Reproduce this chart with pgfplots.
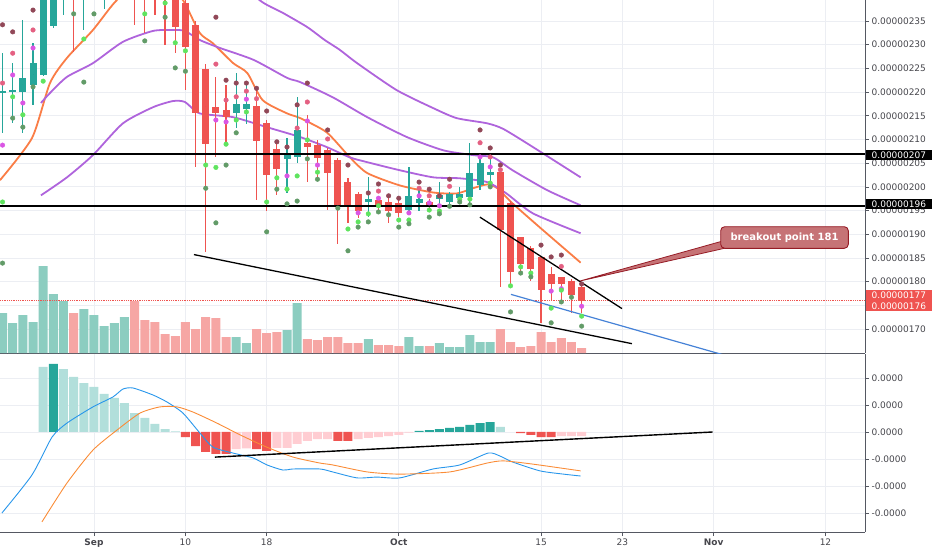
\documentclass[border=0pt]{standalone}
\usepackage{pgfplots}
\pgfplotsset{compat=1.18}
\usepackage{pgfplotstable}
\usepackage{fontspec}
\setmainfont{DejaVu Sans}
\definecolor{cUp}{RGB}{38,166,154}
\definecolor{cDn}{RGB}{239,83,80}
\definecolor{volUp}{RGB}{140,205,192}
\definecolor{volDn}{RGB}{246,166,164}
\definecolor{hDark}{RGB}{38,166,154}
\definecolor{hLight}{RGB}{178,223,219}
\definecolor{hRed}{RGB}{239,83,80}
\definecolor{hPink}{RGB}{255,205,210}
\definecolor{maC}{RGB}{250,125,70}
\definecolor{puC}{RGB}{175,100,220}
\definecolor{mBlue}{RGB}{40,150,235}
\definecolor{mOr}{RGB}{250,140,55}
\definecolor{dMar}{RGB}{145,72,88}
\definecolor{dPink}{RGB}{228,96,130}
\definecolor{dMag}{RGB}{218,85,228}
\definecolor{dLg}{RGB}{95,228,95}
\definecolor{dDg}{RGB}{98,155,104}
\definecolor{gridc}{RGB}{236,238,243}
\definecolor{axc}{RGB}{85,88,98}
\definecolor{txc}{RGB}{70,70,76}
\definecolor{callf}{RGB}{198,115,118}
\definecolor{callb}{RGB}{150,28,38}
\definecolor{tline}{RGB}{70,130,215}

\pgfplotstableread{
d o h l c
-9 219.9 228.2 211.3 220.2
-8 220.1 226.1 213.4 220.4
-7 220.0 235.2 211.3 223.0
-6 221.5 230.3 217.2 226.1
-5 223.6 245.0 223.4 243.0
-4 233.9 248.0 233.5 246.0
-3 244.0 250.0 236.3 248.0
-1 246.0 252.0 233.0 250.0
0 248.0 254.0 241.0 252.0
1 250.0 258.0 237.5 256.0
2 254.0 260.0 243.0 258.0
3 255.0 262.0 242.0 259.0
14 215.5 224.0 212.4 217.5
15 216.4 221.5 213.2 217.5
19 205.8 210.3 198.6 206.9
20 206.2 219.0 205.0 212.0
27 196.7 202.0 193.6 197.5
31 195.1 204.2 194.8 198.1
32 196.6 199.3 195.0 197.4
34 197.4 201.0 195.7 198.2
35 196.8 199.0 196.2 198.5
36 197.7 199.9 196.5 198.5
37 197.8 209.2 196.5 202.9
38 200.4 207.1 199.3 205.0
39 202.6 207.1 200.0 203.2
}\upc

\pgfplotstableread{
d o h l c
-2 252.0 254.0 228.4 246.0
4 259.0 262.0 234.2 255.0
5 257.0 259.0 232.5 252.0
6 254.0 256.0 236.3 250.0
7 252.0 254.0 230.0 246.0
8 248.0 250.0 228.2 233.7
9 238.8 241.0 220.4 229.5
10 234.2 235.0 204.1 215.5
11 224.9 226.0 186.2 209.0
12 216.8 223.2 206.2 215.5
13 216.2 221.5 209.2 214.7
16 217.0 220.8 197.2 209.6
17 213.4 214.0 195.0 202.4
18 207.9 209.8 198.2 203.7
21 209.3 215.2 201.0 208.4
22 208.8 209.8 201.4 206.1
23 207.8 208.2 195.1 202.9
24 205.6 206.0 188.0 195.7
25 201.0 201.8 192.3 195.7
26 198.5 199.0 193.5 194.9
28 197.2 198.0 195.0 196.2
29 196.8 198.0 192.4 194.9
30 196.6 197.2 193.6 194.4
33 196.8 197.5 194.8 196.0
40 203.1 203.5 178.8 190.9
41 196.6 197.0 178.8 182.1
42 189.4 189.5 181.7 183.8
43 187.0 187.5 180.2 182.6
44 185.1 185.5 171.2 178.3
45 181.7 183.0 176.0 179.4
46 180.9 181.0 176.0 179.4
47 180.2 180.5 173.3 177.1
48 178.8 179.5 173.3 176.0
}\dnc

\pgfplotsset{base/.style={scale only axis, width=865pt, xmin=-9.25, xmax=75.89, anchor=south west, clip=true},
  candle/.style 2 args={only marks, mark=*, mark size=0pt, mark options={draw=none, fill=none},
    error bars/.cd, y dir=both, y explicit, error mark=none,
    error bar style={draw=#1, line width=#2}},
  pdot/.style={only marks, color=#1, mark=*, mark size=2.3pt, mark options={solid, draw=none, fill=#1}}}

\begin{document}
\begin{tikzpicture}[x=1pt,y=1pt]
\path[use as bounding box] (0,0) rectangle (932,550);

% ---------- price panel: grid, axis, labels
\begin{axis}[base, at={(0pt,197pt)}, height=353pt, ymin=164.93, ymax=239.43,
  axis x line*=bottom, axis y line*=right,
  axis line style={draw=axc, line width=0.8pt},
  xtick={0,9,17,30,44,52,61,72}, xticklabels={}, x tick style={draw=none},
  ytick={170,175,...,235},
  yticklabels={0.00000170,0.00000175,0.00000180,0.00000185,0.00000190,0.00000195,0.00000200,0.00000205,0.00000210,0.00000215,0.00000220,0.00000225,0.00000230,0.00000235},
  y tick style={draw=axc, line width=0.6pt}, tick align=outside, major tick length=4pt,
  yticklabel style={font=\fontsize{9}{10}\selectfont, text=txc, anchor=west, xshift=-1pt},
  grid=major, grid style={draw=gridc, line width=0.7pt}]
\addplot[draw=none] coordinates {(0,200)};
\end{axis}

% ---------- volume
\begin{axis}[base, at={(0pt,197pt)}, height=353pt, ymin=0, ymax=353, hide axis]
\addplot[ybar, bar width=9pt, bar shift=0pt, fill=volUp, draw=none] coordinates {
(-9,40) (-8,30) (-7,38) (-6,31) (-5,87) (-4,59) (-3,52) (-1,44) (0,38) (1,27) (2,30) (3,36)
(14,16) (15,10) (19,23) (20,50) (27,14) (31,16) (32,7) (34,10) (35,6) (36,6) (37,18) (38,11) (39,11)};
\addplot[ybar, bar width=9pt, bar shift=0pt, fill=volDn, draw=none] coordinates {
(-2,40) (4,52) (5,33) (6,31) (7,19) (8,17) (9,31) (10,24) (11,36) (12,35) (13,16) (16,24) (17,20) (18,21)
(21,14) (22,13) (23,16) (24,16) (25,10) (26,10) (28,8) (29,8) (30,7) (33,7)
(40,24) (41,11) (42,6) (43,7) (44,21) (45,11) (46,15) (47,11) (48,5)};
\end{axis}

% ---------- price data
\begin{axis}[base, at={(0pt,197pt)}, height=353pt, ymin=164.93, ymax=239.43, hide axis]
% moving averages
\addplot[maC, line width=1.8pt, smooth, tension=0.4] coordinates {
(-9.25,201.4) (-6.1,210.3) (-4.33,221.9) (-2.66,227.2) (-0.1,233.1) (2.07,239.0) (4.5,243.5) (7.0,242.6) (8.76,239.4) (10.4,232.5) (11.7,230.3) (13.7,226.1) (15.1,224.0) (16.6,218.3) (19.0,215.5) (20.3,214.5) (22.9,211.5) (25.2,206.2) (26.9,202.9) (30.1,200.3) (33.4,198.8) (35.7,198.6) (37.3,199.7) (38.7,200.5) (39.7,199.7) (41.2,196.5) (43.9,191.4) (47.9,184.0)};
\addplot[puC, line width=1.8pt, smooth, tension=0.4] coordinates {
(-5.22,238.8) (-4.5,241) (0.6,248) (8.5,250) (13.4,246) (16.3,239.4) (18.6,236.7) (21.0,233.7) (22.7,231.0) (24.2,228.9) (25.9,226.1) (29.8,220.4) (33.4,216.6) (35.7,214.5) (38.7,213.4) (40.3,212.2) (43.2,208.4) (47.9,202.0)};
\addplot[puC, line width=1.8pt, smooth, tension=0.4] coordinates {
(-5.22,217.7) (-4.33,219.8) (-2.66,223.2) (-0.1,226.1) (2.85,230.6) (5.81,232.9) (7.78,233.1) (8.96,232.9) (10.4,231.0) (12.4,229.3) (15.7,226.8) (19.0,223.0) (20.3,222.1) (23.5,218.9) (26.9,214.7) (30.8,210.5) (34.4,207.7) (37.3,206.7) (39.3,206.2) (41.2,203.5) (44.6,199.3) (47.9,196.1)};
\addplot[puC, line width=1.8pt, smooth, tension=0.4] coordinates {
(-5.22,198.2) (-2.66,202.0) (-0.1,206.7) (2.85,213.4) (5.81,216.8) (7.78,218.1) (8.96,217.9) (10.4,215.5) (13.7,214.7) (17.0,212.6) (20.3,210.5) (22.9,208.4) (25.2,206.2) (26.9,205.2) (30.1,203.5) (33.4,202.0) (36.0,201.8) (38.7,201.0) (40.6,198.6) (43.2,194.4) (47.9,190.2)};
% candles: wicks
\addplot[candle={cUp}{1.2pt}]
  table[x=d, y expr={(\thisrow{h}+\thisrow{l})/2}, y error expr={(\thisrow{h}-\thisrow{l})/2}] {\upc};
\addplot[candle={cDn}{1.2pt}]
  table[x=d, y expr={(\thisrow{h}+\thisrow{l})/2}, y error expr={(\thisrow{h}-\thisrow{l})/2}] {\dnc};
% candles: bodies
\addplot[candle={cUp}{7pt}]
  table[x=d, y expr={(\thisrow{o}+\thisrow{c})/2}, y error expr={max(abs(\thisrow{c}-\thisrow{o})/2,0.15)}] {\upc};
\addplot[candle={cDn}{7pt}]
  table[x=d, y expr={(\thisrow{o}+\thisrow{c})/2}, y error expr={max(abs(\thisrow{c}-\thisrow{o})/2,0.15)}] {\dnc};
% pivot dots
\addplot[pdot=dMar] coordinates {
(-9,234.2) (-8,232.7) (-6,237.3) (12,235.8) (13,222.5) (14,221.9) (15,221.9) (16,220.8) (17,216.0) (18,209.5) (19,208.4) (20,217.3) (21,221.9) (23,212.0) (25,204.6) (27,198.7) (28,200.6) (29,198.1) (30,197.6) (32,201.0) (33,199.5) (34,198.1) (35,201.6) (38,212.0) (39,208.2) (40,204.6) (44,187.7) (45,185.2) (46,185.6) (48,179.5)};
\addplot[pdot=dPink] coordinates {
(-9,221.9) (-8,228.2) (-6,233.1) (12,225.9) (13,218.3) (14,219.0) (15,220.2) (16,218.6) (20,212.4) (21,217.9) (23,210.1) (28,199.1) (32,199.7) (33,198.1) (35,200.1) (38,209.3) (39,206.3) (40,203.6) (46,183.2)};
\addplot[pdot=dMag] coordinates {
(-9,208.8) (-8,223.6) (-7,217.7) (-6,229.3) (12,214.1) (13,213.7) (15,218.5) (19,202.3) (21,213.9) (22,204.6) (26,194.5) (28,197.6) (31,194.5) (32,198.1) (33,196.6) (34,196.0) (38,206.3) (39,204.2) (45,178.0) (46,178.5) (48,174.8)};
\addplot[pdot=dLg] coordinates {
(-9,196.8) (-8,219.0) (-7,215.2) (-5,222.3) (-1,231.2) (5,236.5) (7,238.8) (8,230.4) (9,228.7) (11,204.6) (12,204.1) (13,209.0) (14,214.1) (15,215.8) (17,196.8) (18,201.9) (19,199.5) (20,202.3) (21,209.9) (22,203.1) (25,191.1) (26,192.6) (27,194.3) (28,196.0) (30,193.0) (31,193.0) (33,195.1) (34,194.9) (36,197.4) (37,197.4) (39,200.8) (41,179.1) (42,183.1) (43,181.8) (45,174.4) (46,178.2) (48,172.7)};
\addplot[pdot=dDg] coordinates {
(-9,183.9) (-8,214.5) (-7,212.6) (-6,221.1) (-2,236.5) (-1,222.1) (0,236.5) (5,230.8) (7,235.8) (8,225.1) (9,224.4) (11,199.7) (12,192.4) (13,204.6) (14,211.4) (17,190.5) (18,199.5) (19,196.4) (20,197.0) (21,205.9) (22,201.6) (24,195.5) (25,186.5) (26,191.5) (27,192.6) (28,194.7) (29,194.1) (30,191.5) (31,192.2) (33,193.6) (34,194.3) (35,195.9) (36,196.8) (37,196.2) (39,200.0) (41,173.6) (42,181.8) (43,181.0) (45,171.3) (46,175.7) (47,176.7) (48,170.6)};
% horizontal levels and trend lines
\addplot[black, line width=1.7pt] coordinates {(-9.25,207) (75.89,207)};
\addplot[black, line width=1.7pt] coordinates {(-9.25,196) (75.89,196)};
\addplot[cDn, densely dotted, line width=0.8pt] coordinates {(-9.25,176.1) (75.89,176.1)};
\addplot[black, line width=1.3pt] coordinates {(9.84,185.7) (52.95,166.9)};
\addplot[black, line width=1.3pt] coordinates {(37.99,193.6) (51.97,174.3)};
\addplot[tline, line width=1.2pt] coordinates {(41.04,177.3) (62.5,164.2)};
\end{axis}

% ---------- MACD panel
\begin{axis}[base, at={(0pt,18pt)}, height=178pt, ymin=-3.704, ymax=2.889,
  axis x line*=bottom, axis y line*=right,
  axis line style={draw=axc, line width=0.8pt},
  xtick={0,9,17,30,44,52,61,72},
  xticklabels={\textbf{Sep},10,18,\textbf{Oct},15,23,\textbf{Nov},12},
  ytick={-3,-2,-1,0,1,2},
  yticklabels={-0.0000,-0.0000,-0.0000,0.0000,0.0000,0.0000},
  tick style={draw=axc, line width=0.6pt}, tick align=outside, major tick length=4pt,
  yticklabel style={font=\fontsize{9}{10}\selectfont, text=txc, anchor=west, xshift=-1pt},
  xticklabel style={font=\fontsize{9}{10}\selectfont, text=txc, yshift=1pt},
  grid=major, grid style={draw=gridc, line width=0.7pt}]
\addplot[ybar, bar width=9pt, bar shift=0pt, fill=hLight, draw=none] coordinates {
(-5,2.41) (-3,2.33) (-2,2.04) (-1,1.81) (0,1.67) (1,1.41) (2,1.26) (3,1.07) (4,0.70) (5,0.52) (6,0.30) (7,0.11) (8,0.02) (40,0.19)};
\addplot[ybar, bar width=9pt, bar shift=0pt, fill=hDark, draw=none] coordinates {
(-4,2.52) (32,0.04) (33,0.07) (34,0.11) (35,0.15) (36,0.19) (37,0.26) (38,0.33) (39,0.37)};
\addplot[ybar, bar width=9pt, bar shift=0pt, fill=hRed, draw=none] coordinates {
(9,-0.19) (10,-0.52) (11,-0.74) (12,-0.81) (13,-0.81) (16,-0.63) (17,-0.70) (24,-0.33) (25,-0.33) (42,-0.04) (43,-0.11) (44,-0.19) (45,-0.19)};
\addplot[ybar, bar width=9pt, bar shift=0pt, fill=hPink, draw=none] coordinates {
(14,-0.63) (15,-0.61) (18,-0.59) (19,-0.59) (20,-0.44) (21,-0.33) (22,-0.26) (23,-0.26) (26,-0.26) (27,-0.22) (28,-0.19) (29,-0.15) (30,-0.11) (31,-0.02) (46,-0.15) (47,-0.15) (48,-0.15)};
\addplot[mBlue, line width=0.9pt, smooth, tension=0.4] coordinates {
(-9.06,-3.0) (-6.1,-1.59) (-4.13,-0.19) (-2.66,0.33) (-0.1,0.93) (1.87,1.30) (2.85,1.59) (3.84,1.63) (5.81,1.37) (7.19,1.11) (8.76,0.70) (10.43,-0.04) (11.71,-0.56) (13.68,-0.78) (15.65,-0.96) (17.03,-1.22) (18.6,-1.41) (19.6,-1.37) (22.24,-1.37) (23.5,-1.48) (25.9,-1.70) (27.85,-1.67) (30.1,-1.70) (33.37,-1.37) (36.0,-1.22) (38.8,-0.78) (39.96,-0.89) (41.2,-1.11) (43.9,-1.44) (46.2,-1.56) (47.9,-1.63)};
\addplot[mOr, line width=0.9pt, smooth, tension=0.4] coordinates {
(-5.12,-3.33) (-2.66,-1.89) (-0.1,-0.67) (2.26,0.07) (4.53,0.70) (6.5,0.93) (8.17,0.93) (9.74,0.74) (12.1,0.33) (14.4,-0.11) (17.0,-0.56) (19.6,-0.93) (22.24,-1.15) (23.5,-1.22) (26.9,-1.48) (30.1,-1.56) (35.0,-1.48) (38.7,-1.15) (40.3,-1.07) (43.2,-1.19) (47.9,-1.44)};
\addplot[black, line width=1.4pt] coordinates {(11.9,-0.93) (60.9,0.0)};
\end{axis}

% ---------- price tags on the right scale
\begin{scope}[every node/.style={anchor=west, inner xsep=6pt, inner ysep=0pt, minimum height=10.5pt, text height=6.6pt, text depth=0pt, font=\fontsize{9}{10}\selectfont, text=white}]
\node[fill=black] at (865.5,395) {0.00000207};
\node[fill=black] at (865.5,346) {0.00000196};
\node[fill=cDn] at (865.5,254.5) {0.00000177};
\node[fill=cDn] at (865.5,244) {0.00000176};
\end{scope}

% ---------- callout
\filldraw[fill=callf, draw=callb, line width=0.8pt] (580,269) -- (721,308.5) -- (728,302.5) -- cycle;
\draw[fill=callf, draw=callb, line width=0.9pt, rounded corners=4pt] (720.7,301.7) rectangle (848.3,323.3);
\node[text=white, font=\bfseries\fontsize{10}{12}\selectfont] at (784.5,312.5) {breakout point 181};
\end{tikzpicture}
\end{document}
